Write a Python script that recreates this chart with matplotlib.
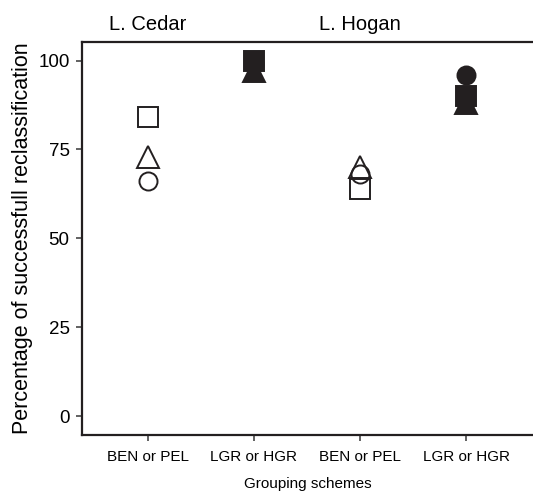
import matplotlib
matplotlib.use('Agg')
import matplotlib.pyplot as plt

plt.rcParams['font.family'] = ['Liberation Sans', 'DejaVu Sans']

# data
schemes = ['BEN or PEL', 'LGR or HGR', 'BEN or PEL', 'LGR or HGR']
lakes = ['L. Cedar', 'L. Hogan']
square = [84, 100, 64, 90]
triangle = [73, 97, 70, 88]
circle = [66, 99, 68, 96]
filled = [False, True, False, True]

x = [1, 2, 3, 4]

fig = plt.figure(figsize=(5.33, 4.93), dpi=100)
ax = fig.add_axes([0.154, 0.1176, 0.846, 0.797])

for i in range(4):
    fc = '#231f20' if filled[i] else 'none'
    ax.plot(x[i], circle[i], 'o', ms=13, mfc=fc, mec='#231f20', mew=1.4, zorder=3)
    ax.plot(x[i], triangle[i], '^', ms=16, mfc=fc, mec='#231f20', mew=1.4, zorder=4)
    ax.plot(x[i], square[i], 's', ms=14.5, mfc=fc, mec='#231f20', mew=1.4, zorder=5 if filled[i] else 2)

ax.set_xlim(0.38, 4.63)
ax.set_ylim(-5.3, 105.2)
ax.set_xticks(x)
ax.set_xticklabels(schemes, fontsize=11)
ax.set_yticks([0, 25, 50, 75, 100])
ax.tick_params(axis='y', labelsize=13.5, length=4, width=1.3, color='#555555', pad=5)
ax.tick_params(axis='x', length=4, width=1.3, color='#555555', pad=7)
for s in ['left', 'bottom', 'top']:
    ax.spines[s].set_linewidth(1.6)
    ax.spines[s].set_color('#231f20')
ax.spines['right'].set_visible(False)

ax.set_xlabel('Grouping schemes', fontsize=11, labelpad=9)
ax.set_ylabel('Percentage of successfull reclassification', fontsize=15.5, labelpad=4)

ax.text(1, 1.02, lakes[0], transform=ax.get_xaxis_transform(), ha='center', va='bottom', fontsize=14.5)
ax.text(3, 1.02, lakes[1], transform=ax.get_xaxis_transform(), ha='center', va='bottom', fontsize=14.5)

fig.savefig('out.png', dpi=100)
